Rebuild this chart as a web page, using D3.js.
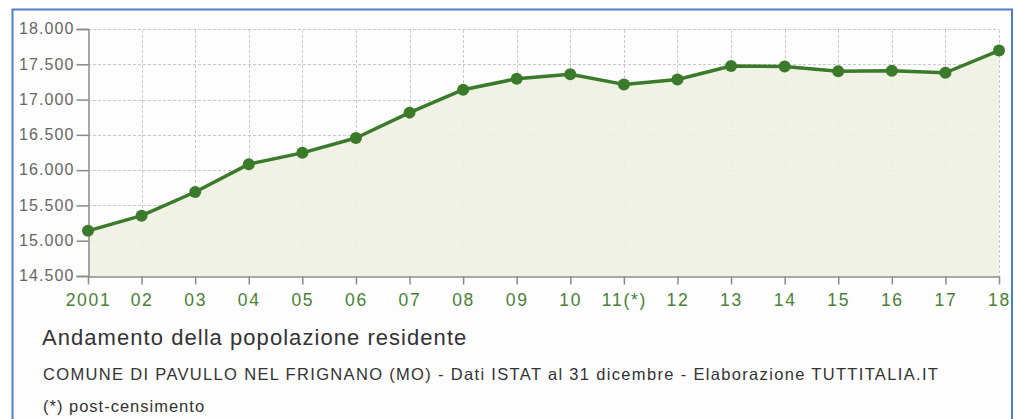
<!DOCTYPE html>
<html>
<head>
<meta charset="utf-8">
<script src="https://cdn.jsdelivr.net/npm/d3@7"></script>
<style>
  body { margin: 0; background: #fff; }
  svg { display: block; }
</style>
</head>
<body>
<script>
var years = ["2001", "02", "03", "04", "05", "06", "07", "08", "09", "10",
             "11(*)", "12", "13", "14", "15", "16", "17", "18"];
var population = [15140, 15355, 15690, 16085, 16245, 16455, 16815, 17140, 17295,
                  17360, 17215, 17285, 17475, 17470, 17400, 17410, 17380, 17695];
var yTicks = [14500, 15000, 15500, 16000, 16500, 17000, 17500, 18000];

var title = "Andamento della popolazione residente";
var subtitle = "COMUNE DI PAVULLO NEL FRIGNANO (MO) - Dati ISTAT al 31 dicembre - Elaborazione TUTTITALIA.IT";
var note = "(*) post-censimento";

var width = 1014, height = 419;
var margin = {top: 29, right: 15, bottom: 143, left: 88};
var font = "Liberation Sans, Arial, sans-serif";

var svg = d3.select("body").append("svg")
    .attr("width", width)
    .attr("height", height);

// frame
svg.append("rect")
    .attr("x", 12.5).attr("y", 9.5)
    .attr("width", 999.5).attr("height", 420)
    .attr("fill", "#fdfdfd")
    .attr("stroke", "#4d7fc7")
    .attr("stroke-width", 2);

var x = d3.scalePoint()
    .domain(years)
    .range([margin.left, width - margin.right]);

var y = d3.scaleLinear()
    .domain([14500, 18000])
    .range([276, margin.top]);

var fmt = function (d) { return d3.format(",")(d).replace(/,/g, "."); };

// grid
svg.append("g").selectAll("line")
    .data(yTicks.slice(1))
    .enter().append("line")
    .attr("x1", x.range()[0]).attr("x2", x.range()[1])
    .attr("y1", function (d) { return Math.round(y(d)) + 0.5; })
    .attr("y2", function (d) { return Math.round(y(d)) + 0.5; })
    .attr("stroke", "#c8c8c8")
    .attr("stroke-dasharray", "3,2");

svg.append("g").selectAll("line")
    .data(years.slice(1))
    .enter().append("line")
    .attr("x1", function (d) { return Math.round(x(d)) + 0.5; })
    .attr("x2", function (d) { return Math.round(x(d)) + 0.5; })
    .attr("y1", 30).attr("y2", 276)
    .attr("stroke", "#c8c8c8")
    .attr("stroke-dasharray", "3,2");

// area
var area = d3.area()
    .x(function (d, i) { return x(years[i]); })
    .y0(y(14500))
    .y1(function (d) { return y(d); });

svg.append("path")
    .datum(population)
    .attr("d", area)
    .attr("fill", "#eff1e3")
    .attr("fill-opacity", 0.9);

// axes
var yAxis = svg.append("g")
    .attr("transform", "translate(" + (margin.left + 0.5) + ",0)")
    .call(d3.axisLeft(y).tickValues(yTicks).tickFormat(fmt).tickSize(12).tickPadding(2));
yAxis.select(".domain").attr("stroke", "#8a8a8a").attr("stroke-width", 1.5);
yAxis.selectAll(".tick line").attr("stroke", "#8a8a8a").attr("stroke-width", 1.5);
yAxis.selectAll("text")
    .attr("fill", "#666")
    .attr("font-family", font)
    .attr("font-size", "16px")
    .attr("letter-spacing", "1.1px")
    .attr("dy", "0.3em");

var xAxis = svg.append("g")
    .attr("transform", "translate(0," + 276.5 + ")")
    .call(d3.axisBottom(x).tickSize(8).tickPadding(9).tickSizeOuter(0));
xAxis.select(".domain").attr("stroke", "#8a8a8a").attr("stroke-width", 1.5);
xAxis.selectAll(".tick line").attr("stroke", "#8a8a8a").attr("stroke-width", 1.5);
xAxis.selectAll("text")
    .attr("fill", "#4a7f37")
    .attr("font-family", font)
    .attr("font-size", "17.5px")
    .attr("letter-spacing", "1.7px");

// line + points
var line = d3.line()
    .x(function (d, i) { return x(years[i]); })
    .y(function (d) { return y(d); });

svg.append("path")
    .datum(population)
    .attr("d", line)
    .attr("fill", "none")
    .attr("stroke", "#3b7a2a")
    .attr("stroke-width", 3.5)
    .attr("stroke-linejoin", "round");

svg.append("g").selectAll("circle")
    .data(population)
    .enter().append("circle")
    .attr("cx", function (d, i) { return x(years[i]); })
    .attr("cy", function (d) { return y(d); })
    .attr("r", 6)
    .attr("fill", "#3b7a2a");

// texts
svg.append("text")
    .attr("x", 42).attr("y", 345)
    .attr("font-family", font)
    .attr("font-size", "22px")
    .attr("letter-spacing", "1.05px")
    .attr("fill", "#333")
    .text(title);

svg.append("text")
    .attr("x", 43).attr("y", 380)
    .attr("font-family", font)
    .attr("font-size", "16.5px")
    .attr("letter-spacing", "1.33px")
    .attr("fill", "#333")
    .text(subtitle);

svg.append("text")
    .attr("x", 43).attr("y", 412)
    .attr("font-family", font)
    .attr("font-size", "16.5px")
    .attr("letter-spacing", "1px")
    .attr("fill", "#333")
    .text(note);
</script>
</body>
</html>
